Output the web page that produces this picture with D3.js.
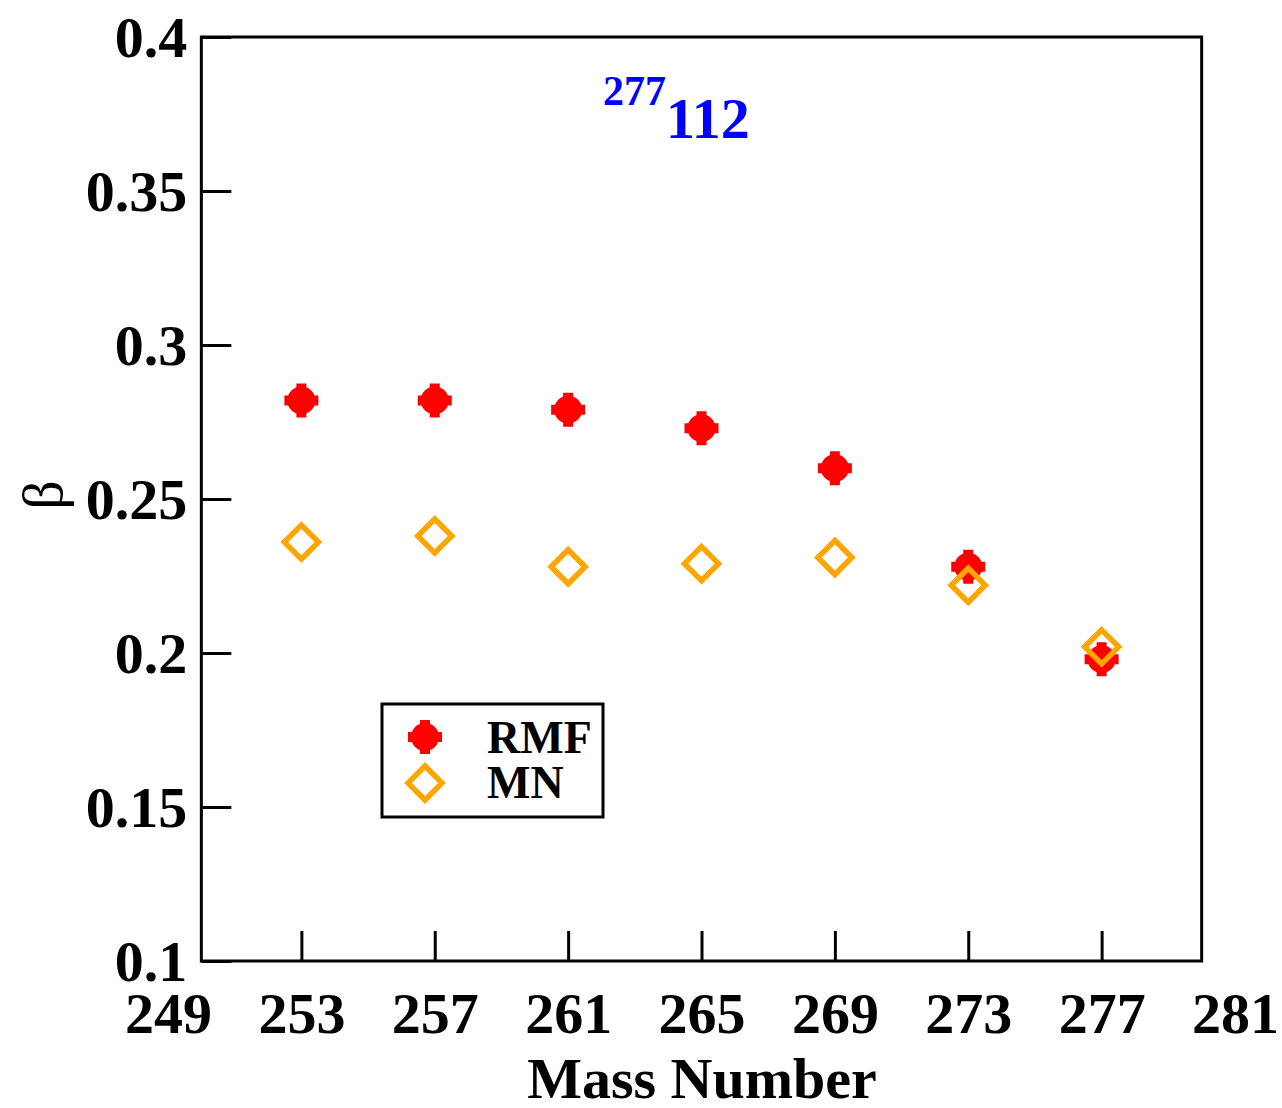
<!DOCTYPE html>
<meta charset="utf-8">
<style>
  body { margin: 0; background: #fff; }
  svg text { font-family: "Liberation Serif", "DejaVu Serif", serif; }
  .tick text { font-size: 58px; font-weight: bold; fill: #000; }
  .tick line { stroke: #000; stroke-width: 3px; }
</style>
<svg width="1282" height="1108"></svg>
<script src="https://cdnjs.cloudflare.com/ajax/libs/d3/7.8.5/d3.min.js"></script>
<script>

  var massNumbers = [253, 257, 261, 265, 269, 273, 277];
  var rmfBeta = [0.282, 0.282, 0.279, 0.273, 0.260, 0.228, 0.198];
  var mnBeta  = [0.236, 0.238, 0.228, 0.229, 0.231, 0.222, 0.202];
  var xTickLabels = [249, 253, 257, 261, 265, 269, 273, 277, 281];
  var yTickLabels = [0.1, 0.15, 0.2, 0.25, 0.3, 0.35, 0.4];

  var svg = d3.select("svg");

  var x = d3.scaleLinear().domain([249, 281]).range([168, 1235]);
  var y = d3.scaleLinear().domain([0.1, 0.4]).range([961, 37]);

  // y axis
  svg.append("g")
      .attr("transform", "translate(" + x(250) + ",0)")
      .call(d3.axisLeft(y).tickValues(yTickLabels)
          .tickSizeInner(-30).tickSizeOuter(0).tickPadding(14)
          .tickFormat(function(d) { return String(+d.toFixed(2)); }))
      .call(function(g) { g.select(".domain").remove(); })
      .call(function(g) { g.selectAll(".tick text").attr("dy", "0.34em"); });

  // x axis
  svg.append("g")
      .attr("transform", "translate(0," + y(0.1) + ")")
      .call(d3.axisBottom(x).tickValues(xTickLabels)
          .tickSizeInner(-30).tickSizeOuter(0).tickPadding(31))
      .call(function(g) { g.select(".domain").remove(); })
      .call(function(g) {
        g.selectAll(".tick line").filter(function(d) { return d < 250 || d > 280; }).remove();
      });

  // frame
  svg.append("rect")
      .attr("x", x(250)).attr("y", y(0.4))
      .attr("width", x(280) - x(250)).attr("height", y(0.1) - y(0.4))
      .attr("fill", "none").attr("stroke", "#000").attr("stroke-width", 3);

  function star(g, cx, cy) {
    g.append("circle").attr("cx", cx).attr("cy", cy).attr("r", 14).attr("fill", "#ff0000");
    g.append("path")
        .attr("transform", "translate(" + cx + "," + cy + ")")
        .attr("d", "M-5,-17H5V-5H17V5H5V17H-5V5H-17V-5H-5Z")
        .attr("fill", "#ff0000");
  }

  function diamond(g, cx, cy) {
    g.append("path")
        .attr("transform", "translate(" + cx + "," + cy + ")")
        .attr("d", "M0,-17L17,0L0,17L-17,0Z")
        .attr("fill", "none").attr("stroke", "#ffa500").attr("stroke-width", 5.5);
  }

  var marks = svg.append("g");
  massNumbers.forEach(function(m, i) { star(marks, x(m), y(rmfBeta[i])); });
  massNumbers.forEach(function(m, i) { diamond(marks, x(m), y(mnBeta[i])); });

  // legend
  var leg = svg.append("g");
  leg.append("rect").attr("x", 382).attr("y", 704).attr("width", 221).attr("height", 113)
      .attr("fill", "#fff").attr("stroke", "#000").attr("stroke-width", 3);
  star(leg, 425, 737);
  diamond(leg, 425, 783);
  leg.append("text").attr("x", 487).attr("y", 753).attr("font-size", 46).attr("font-weight", "bold").text("RMF");
  leg.append("text").attr("x", 487).attr("y", 798).attr("font-size", 46).attr("font-weight", "bold").text("MN");

  // title
  var t = svg.append("text").attr("fill", "#0000ff").attr("font-weight", "bold");
  t.append("tspan").attr("x", 603).attr("y", 105).attr("font-size", 42).text("277");
  t.append("tspan").attr("x", 666).attr("y", 138).attr("font-size", 58).text("112");

  // axis titles
  svg.append("text").attr("x", 702).attr("y", 1098).attr("text-anchor", "middle")
      .attr("font-size", 58).attr("font-weight", "bold").text("Mass Number");
  svg.append("text").attr("transform", "translate(62,495) rotate(-90)")
      .attr("text-anchor", "middle").attr("font-size", 58).text("β");

</script>
